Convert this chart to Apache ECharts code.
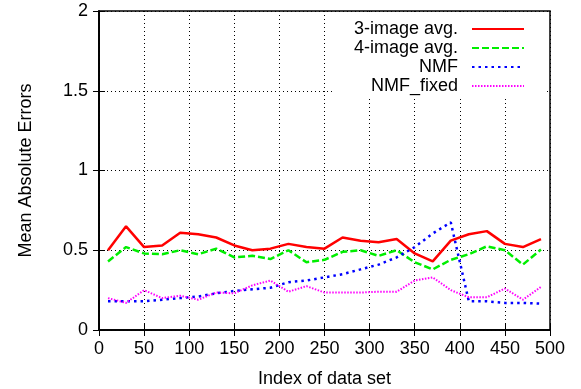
<!DOCTYPE html>
<html>
<head>
<meta charset="utf-8">
<script src="https://cdn.jsdelivr.net/npm/echarts@6/dist/echarts.min.js"></script>
<style>
  html, body { margin: 0; padding: 0; background: #fff; }
  #chart { width: 581px; height: 389px; }
</style>
</head>
<body>
<div id="chart"></div>
<script>
// index of data set (x positions of the samples)
const dataIndex = [10, 30, 50, 70, 90, 110, 130, 150, 170, 190, 210, 230, 250,
  270, 290, 310, 330, 350, 370, 390, 410, 430, 450, 470, 490]

const avg3 = [0.50, 0.65, 0.52, 0.53, 0.61, 0.60, 0.58, 0.53, 0.50, 0.51, 0.54, 0.52, 0.51,
  0.58, 0.56, 0.55, 0.57, 0.48, 0.43, 0.56, 0.60, 0.62, 0.54, 0.52, 0.57]
const avg4 = [0.43, 0.52, 0.48, 0.475, 0.50, 0.475, 0.51, 0.455, 0.465, 0.445, 0.50, 0.425, 0.44,
  0.49, 0.50, 0.465, 0.50, 0.425, 0.38, 0.44, 0.475, 0.525, 0.50, 0.41, 0.505]
const nmf = [0.18, 0.18, 0.18, 0.19, 0.20, 0.21, 0.23, 0.245, 0.255, 0.265, 0.30, 0.31, 0.33,
  0.35, 0.38, 0.41, 0.455, 0.52, 0.605, 0.675, 0.18, 0.18, 0.17, 0.17, 0.165]
const nmfFixed = [0.20, 0.17, 0.25, 0.20, 0.215, 0.19, 0.235, 0.23, 0.28, 0.31, 0.24, 0.275, 0.235,
  0.235, 0.235, 0.24, 0.24, 0.31, 0.33, 0.25, 0.205, 0.205, 0.26, 0.19, 0.27]

const seriesNames = ['3-image avg.', '4-image avg.', 'NMF', 'NMF_fixed']

const pairs = vals => dataIndex.map((x, i) => [x, vals[i]])

const font = 'Liberation Sans, Arial, Helvetica, sans-serif'
const gridLine = { show: true, lineStyle: { color: '#000', width: 1, type: [1, 3] } }

const chart = echarts.init(document.getElementById('chart'))

const lineSeries = (name, vals, color, width, type) => ({
  name,
  type: 'line',
  data: pairs(vals),
  symbol: 'none',
  animation: false,
  lineStyle: { color, width, type },
  itemStyle: { color },
})

chart.setOption({
  backgroundColor: '#fff',
  textStyle: { fontFamily: font },
  grid: {
    left: 99, right: 31, top: 11, bottom: 59,
    outerBoundsMode: 'none',
    show: true, borderColor: '#000', borderWidth: 1.5,
  },
  legend: {
    data: seriesNames,
    orient: 'vertical',
    align: 'right',
    right: 36,
    top: 15,
    padding: [5, 20, 4, 22],
    itemWidth: 52,
    itemHeight: 14,
    itemGap: 1,
    backgroundColor: '#fff',
    itemStyle: { opacity: 0 },
    textStyle: { fontSize: 18, color: '#000', fontFamily: font, padding: [0, 9, 0, 0] },
  },
  xAxis: [
    {
      type: 'value',
      min: 0, max: 500, interval: 50,
      name: 'Index of data set',
      nameLocation: 'middle',
      nameGap: 40,
      nameTextStyle: { fontSize: 18, color: '#000' },
      axisLine: { show: true, lineStyle: { color: '#000', width: 1.5 } },
      axisTick: { inside: true, length: 6, lineStyle: { color: '#000' } },
      axisLabel: { fontSize: 18, color: '#000', margin: 10 },
      splitLine: gridLine,
    },
    {
      type: 'value', position: 'top',
      min: 0, max: 500, interval: 50,
      axisLine: { show: true, lineStyle: { color: '#000', width: 1.5 } },
      axisTick: { inside: true, length: 6, lineStyle: { color: '#000' } },
      axisLabel: { show: false },
      splitLine: { show: false },
    },
  ],
  yAxis: [
    {
      type: 'value',
      min: 0, max: 2, interval: 0.5,
      name: 'Mean Absolute Errors',
      nameLocation: 'middle',
      nameGap: 64,
      nameTextStyle: { fontSize: 18, color: '#000' },
      axisLine: { show: true, lineStyle: { color: '#000', width: 1.5 } },
      axisTick: { inside: true, length: 6, lineStyle: { color: '#000' } },
      axisLabel: { fontSize: 18, color: '#000', margin: 11 },
      splitLine: gridLine,
    },
    {
      type: 'value', position: 'right',
      min: 0, max: 2, interval: 0.5,
      axisLine: { show: true, lineStyle: { color: '#000', width: 1.5 } },
      axisTick: { inside: true, length: 6, lineStyle: { color: '#000' } },
      axisLabel: { show: false },
      splitLine: { show: false },
    },
  ],
  series: [
    lineSeries(seriesNames[0], avg3, '#ff0000', 2.5, 'solid'),
    lineSeries(seriesNames[1], avg4, '#00ee00', 2.5, [7, 3]),
    lineSeries(seriesNames[2], nmf, '#0000ff', 2.5, [2.5, 4]),
    lineSeries(seriesNames[3], nmfFixed, '#ff00ff', 2, [1.5, 1.5]),
  ],
})

window.addEventListener('resize', () => chart.resize())
</script>
</body>
</html>
